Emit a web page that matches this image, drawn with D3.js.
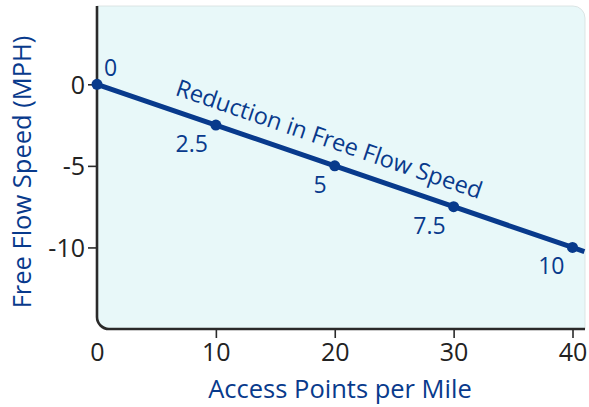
<!DOCTYPE html>
<html><head><meta charset="utf-8">
<script src="https://cdn.jsdelivr.net/npm/d3@7"></script>
<style>body{margin:0;background:#fff}svg{display:block}</style>
</head><body>
<svg id="c" width="589" height="407"></svg>
<script>
const xTicks = [0, 10, 20, 30, 40];
const yTicks = [0, -5, -10];
const accessPoints = [0, 10, 20, 30, 40];
const reduction = [0, -2.5, -5, -7.5, -10];
const pointLabels = ["0", "2.5", "5", "7.5", "10"];
const tailX = 41, tailY = -10.25;
const lineLabel = "Reduction in Free Flow Speed";
const xTitle = "Access Points per Mile";
const yTitle = "Free Flow Speed (MPH)";

const svg = d3.select("#c");
const L = 97, R = 585, T = 6, B = 329, rad = 12;
const x = d3.scaleLinear().domain([0, 40]).range([97, 572.5]);
const y = d3.scaleLinear().domain([-15, 4.8]).range([B, T]);
const navy = "#083a8c", axisC = "#2a2a2a";
const font = "'Open Sans', sans-serif";

svg.append("path")
  .attr("d", `M${L},${T} H${R - rad} A${rad},${rad} 0 0 1 ${R},${T + rad} V${B} H${L + rad} A${rad},${rad} 0 0 1 ${L},${B - rad} Z`)
  .attr("fill", "#e8f8f9").attr("stroke", "#d6dede").attr("stroke-width", 0.8);

svg.append("path")
  .attr("d", `M${L},${T} V${B - rad} A${rad},${rad} 0 0 0 ${L + rad},${B} H${R}`)
  .attr("fill", "none").attr("stroke", axisC).attr("stroke-width", 2.6);

const yAx = svg.append("g").attr("transform", `translate(${L - 1},0)`)
  .call(d3.axisLeft(y).tickValues(yTicks).tickSize(8).tickPadding(3).tickFormat(d => String(d)));
yAx.select(".domain").remove();
yAx.selectAll("line").attr("stroke", axisC).attr("stroke-width", 1.6);
yAx.selectAll("text").attr("font-family", font).attr("font-size", 25).attr("fill", "#222").attr("dy", "0.36em");

const xAx = svg.append("g").attr("transform", `translate(0,${B + 1})`)
  .call(d3.axisBottom(x).tickValues(xTicks).tickSize(8).tickPadding(5).tickFormat(d => String(d)));
xAx.select(".domain").remove();
xAx.selectAll("line").attr("stroke", axisC).attr("stroke-width", 1.6)
  .attr("y2", d => d === 0 ? 0 : 8);
xAx.selectAll("text").attr("font-family", font).attr("font-size", 25).attr("fill", "#222");

const pts = accessPoints.map((a, i) => ({ a, r: reduction[i], lab: pointLabels[i] }));
const lineData = pts.map(p => [p.a, p.r]).concat([[tailX, tailY]]);
svg.append("path").datum(lineData)
  .attr("d", d3.line().x(d => x(d[0])).y(d => y(d[1])))
  .attr("fill", "none").attr("stroke", navy).attr("stroke-width", 5);
svg.selectAll("circle.pt").data(pts).join("circle")
  .attr("cx", d => x(d.a)).attr("cy", d => y(d.r)).attr("r", 5.5).attr("fill", navy);

svg.selectAll("text.pl").data(pts).join("text")
  .attr("x", (d, i) => i === 0 ? x(d.a) + 7 : x(d.a) - 8)
  .attr("y", (d, i) => i === 0 ? y(d.r) - 8 : y(d.r) + 27)
  .attr("text-anchor", (d, i) => i === 0 ? "start" : "end")
  .attr("font-family", font).attr("font-size", 23).attr("fill", navy)
  .text(d => d.lab);

const p0 = pts[0], p4 = pts[4];
const ang = Math.atan2(y(p4.r) - y(p0.r), x(p4.a) - x(p0.a)) * 180 / Math.PI;
const lx = x(6.5), ly = y(-6.5 / 4) - 16;
svg.append("text")
  .attr("transform", `translate(${lx},${ly}) rotate(${ang})`)
  .attr("font-family", font).attr("font-size", 23.5).attr("fill", navy)
  .text(lineLabel);

svg.append("text").attr("x", 340).attr("y", 398).attr("text-anchor", "middle")
  .attr("font-family", font).attr("font-size", 25.5).attr("fill", navy).text(xTitle);
svg.append("text").attr("transform", `translate(31,172) rotate(-90)`).attr("text-anchor", "middle")
  .attr("font-family", font).attr("font-size", 25.5).attr("fill", navy).text(yTitle);
</script>
</body></html>
